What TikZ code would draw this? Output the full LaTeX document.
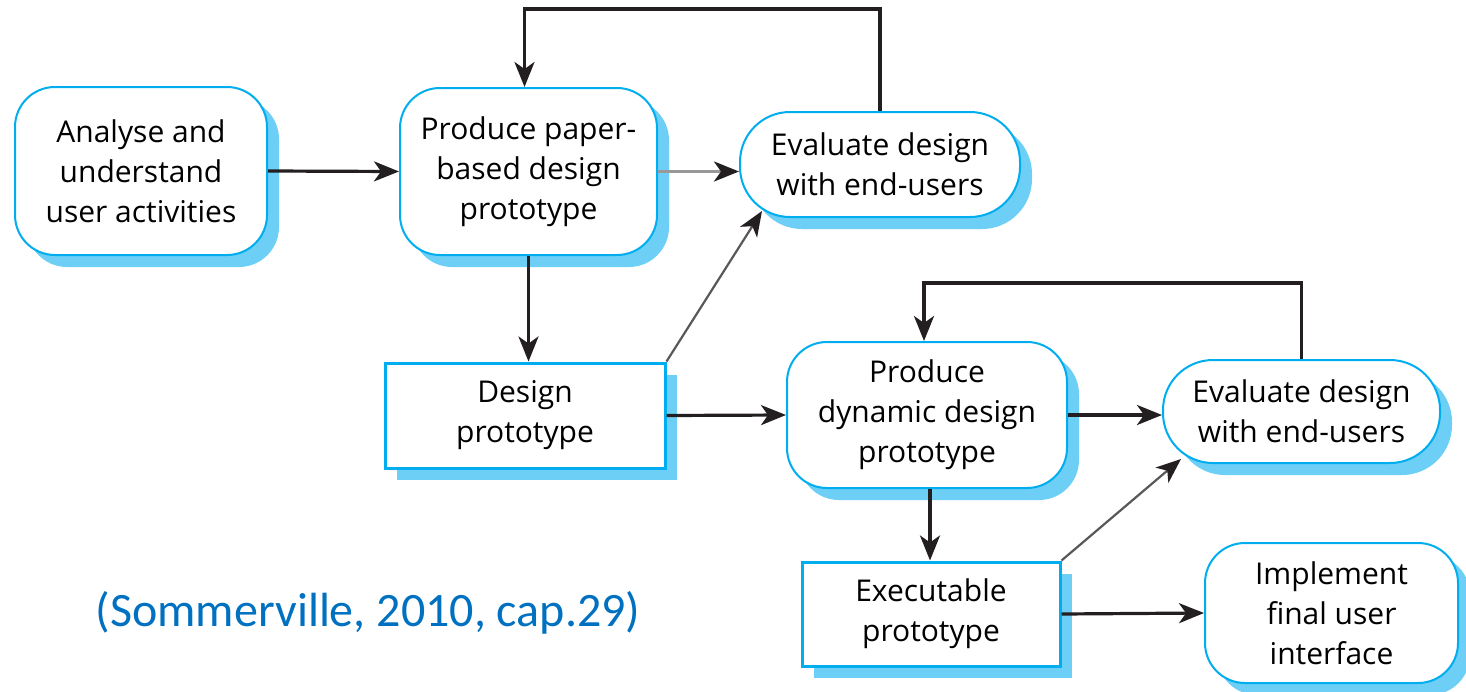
\documentclass[tikz,border=0pt]{standalone}
\usepackage{fontspec}
\setmainfont{Open Sans}
\newfontfamily\citefont{Carlito}
\usetikzlibrary{arrows.meta,shadows,calc}
\definecolor{bordercyan}{HTML}{00AEEF}
\definecolor{shadowblue}{HTML}{6DCFF6}
\definecolor{ink}{HTML}{231F20}
\definecolor{citeblue}{HTML}{0070C0}
\tikzset{
  x=0.5pt, y=-0.5pt,
  basebox/.style={draw=bordercyan, fill=white, inner sep=0pt, align=center,
    font=\fontsize{15}{20}\selectfont, text=black,
    drop shadow={shadow xshift=6pt, shadow yshift=-6pt, fill=shadowblue, opacity=1}},
  rbox/.style={basebox, line width=1pt, rounded corners=20pt},
  pill/.style={basebox, line width=1pt, rounded corners=25pt},
  sbox/.style={basebox, line width=1.5pt},
  arr/.style={draw=ink, line width=1.6pt, -{Stealth[length=12.5pt, width=10pt, inset=3.5pt]}},
  thinarr/.style={draw=ink!75, line width=1.1pt, -{Stealth[length=12.5pt, width=10pt, inset=3.5pt, color=ink]}},
  greyarr/.style={draw=black!40, line width=1.6pt, -{Stealth[length=12.5pt, width=10pt, inset=3.5pt, color=ink]}},
}
\begin{document}
\begin{tikzpicture}
\path[use as bounding box] (0,0) rectangle (1466,691);

\node[rbox, minimum width=126pt, minimum height=84pt] (A) at (141,171) {Analyse and\\understand\\user activities};
\node[rbox, minimum width=128.5pt, minimum height=83.5pt] (P) at (528.5,171.5) {Produce paper-\\based design\\prototype};
\node[pill, minimum width=140pt, minimum height=52.5pt] (E1) at (880,164.5) {Evaluate design\\with end-users};
\node[sbox, minimum width=140pt, minimum height=52.5pt] (D) at (525,415.5) {Design\\prototype};
\node[rbox, minimum width=140pt, minimum height=73pt] (Dy) at (927,415) {Produce\\dynamic design\\prototype};
\node[pill, minimum width=138.5pt, minimum height=51.5pt] (E2) at (1301.5,411.5) {Evaluate design\\with end-users};
\node[sbox, minimum width=129pt, minimum height=52pt] (X) at (931,614) {Executable\\prototype};
\node[rbox, minimum width=126.5pt, minimum height=70pt] (I) at (1331.5,613) {Implement\\final user\\interface};

\node[font=\citefont\fontsize{24}{28}\selectfont, text=citeblue, inner sep=0pt] (cite) at (368,613) {(Sommerville, 2010, cap.29)};

\coordinate (t1) at (700,9);
\coordinate (t2) at (1100,283);

\draw[arr] (A.east) -- (P.west);
\draw[greyarr] (P.east) -- (E1.west |- P.east);
\draw[arr, -] (E1.north) |- (t1);
\draw[arr] (t1) -| ([xshift=-2pt]P.north);
\draw[arr] (P.south) -- (P.south |- D.north);
\draw[thinarr] (D.north east) -- ([xshift=11.5pt, yshift=3.5pt]E1.south west);
\draw[arr] (D.east) -- (Dy.west);
\draw[arr] (Dy.east) -- (Dy.east -| E2.west);
\draw[arr, -] (E2.north) |- (t2);
\draw[arr] (t2) -| ([xshift=-1.5pt]Dy.north);
\draw[arr] ([xshift=1.5pt]Dy.south) -- ([xshift=1.5pt]Dy.south |- X.north);
\draw[thinarr] (X.north east) -- ([xshift=9.5pt, yshift=2.5pt]E2.south west);
\draw[arr] (X.east) -- (I.west);
\end{tikzpicture}
\end{document}
